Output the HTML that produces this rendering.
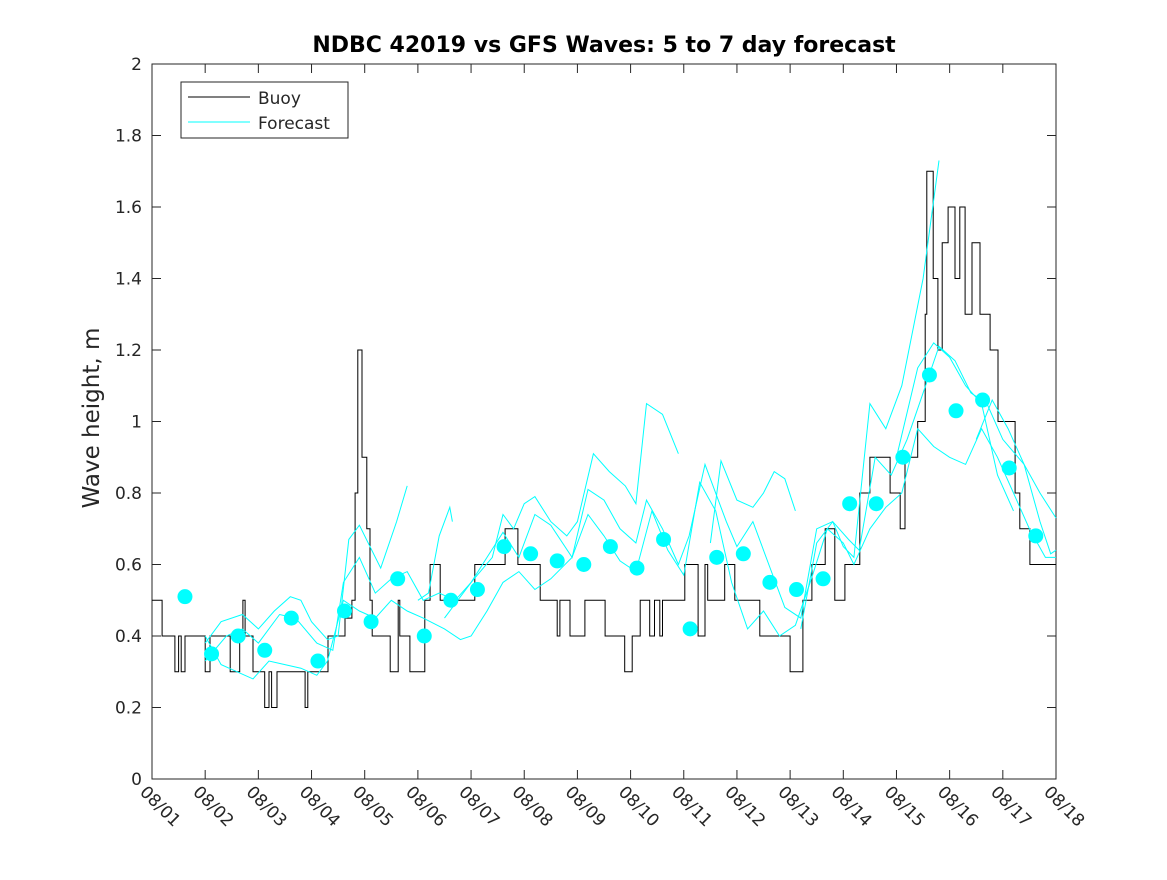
<!DOCTYPE html>
<html><head><meta charset="utf-8"><style>
body{margin:0;background:#fff;}
svg text{font-family:"DejaVu Sans","Liberation Sans",sans-serif;fill:#262626;}
</style></head><body>
<svg id="chart" width="1167" height="875"></svg>
<script>
const yTicks=[0,0.2,0.4,0.6,0.8,1,1.2,1.4,1.6,1.8,2];
const yTickLabels=["0","0.2","0.4","0.6","0.8","1","1.2","1.4","1.6","1.8","2"];
const xTickLabels=["08/01","08/02","08/03","08/04","08/05","08/06","08/07","08/08","08/09","08/10","08/11","08/12","08/13","08/14","08/15","08/16","08/17","08/18"];
const buoyDays=[0,0.19,0.43,0.5,0.55,0.62,1.0,1.09,1.47,1.65,1.71,1.75,1.9,2.12,2.2,2.25,2.35,2.45,2.5,2.88,2.93,2.97,3.31,3.63,3.76,3.82,3.87,3.95,4.04,4.1,4.14,4.48,4.63,4.66,4.7,4.85,5.13,5.23,5.32,5.42,6.07,6.13,6.64,6.88,7.3,7.62,7.67,7.86,8.14,8.52,8.89,9.03,9.18,9.36,9.45,9.55,9.6,9.74,10.02,10.27,10.4,10.45,10.77,10.96,11.43,12.0,12.24,12.41,12.66,12.84,13.03,13.31,13.5,13.88,14.07,14.16,14.4,14.54,14.57,14.69,14.78,14.86,14.97,15.1,15.19,15.29,15.42,15.57,15.76,15.91,16.13,16.23,16.32,16.51,17];
const buoyVals=[0.5,0.4,0.3,0.4,0.3,0.4,0.3,0.4,0.3,0.4,0.5,0.4,0.3,0.2,0.3,0.2,0.3,0.3,0.3,0.2,0.3,0.3,0.4,0.45,0.5,0.8,1.2,0.9,0.7,0.5,0.4,0.3,0.5,0.4,0.4,0.3,0.5,0.6,0.6,0.5,0.6,0.6,0.7,0.6,0.5,0.4,0.5,0.4,0.5,0.4,0.3,0.4,0.5,0.4,0.5,0.4,0.5,0.5,0.6,0.4,0.6,0.5,0.6,0.5,0.4,0.3,0.5,0.6,0.7,0.5,0.6,0.8,0.9,0.8,0.7,0.9,1.0,1.3,1.7,1.4,1.2,1.5,1.6,1.4,1.6,1.3,1.5,1.3,1.2,1.0,1.0,0.8,0.7,0.6,0.6];
const fcA=[[1.0,0.38],[1.3,0.44],[1.7,0.46],[2.0,0.42],[2.3,0.47],[2.6,0.51],[2.8,0.50],[3.0,0.44],[3.3,0.39],[3.5,0.40],[3.7,0.67],[3.9,0.71],[4.1,0.65],[4.3,0.59],[4.6,0.72],[4.8,0.82]];
const fcB=[[5.0,0.50],[5.2,0.52],[5.4,0.68],[5.6,0.76],[5.65,0.72]];
const fcC=[[5.5,0.45],[6,0.55],[6.4,0.62],[6.6,0.74],[6.8,0.70],[7.0,0.77],[7.2,0.79],[7.5,0.72],[7.8,0.68],[8.0,0.72],[8.3,0.91],[8.6,0.86],[8.9,0.82],[9.1,0.77],[9.3,1.05],[9.6,1.02],[9.9,0.91]];
const fcD=[[10.5,0.66],[10.7,0.89],[11,0.78],[11.3,0.76],[11.5,0.80],[11.7,0.86],[11.9,0.84],[12.1,0.75]];
const fcE=[[12.2,0.42],[12.5,0.66],[12.8,0.72],[13.0,0.65],[13.2,0.62],[13.5,1.05],[13.8,0.98],[14.1,1.10],[14.5,1.40],[14.8,1.73]];
const fcF=[[1.0,0.33],[1.4,0.40],[1.7,0.42],[2.0,0.38],[2.4,0.46],[2.7,0.45],[3.1,0.38],[3.4,0.36],[3.6,0.55],[3.9,0.62],[4.2,0.52],[4.5,0.56],[4.8,0.58],[5.1,0.50],[5.4,0.52],[5.7,0.50],[6.0,0.55],[6.3,0.62],[6.6,0.69],[6.9,0.62],[7.2,0.74],[7.5,0.71],[7.9,0.62],[8.2,0.81],[8.5,0.78],[8.8,0.70],[9.1,0.66],[9.3,0.78],[9.6,0.70],[9.9,0.60],[10.1,0.68],[10.4,0.88],[10.8,0.72],[11.0,0.65],[11.3,0.72],[11.6,0.60],[11.9,0.48],[12.2,0.45],[12.5,0.70],[12.8,0.72],[13.1,0.67],[13.3,0.64],[13.6,0.90],[13.9,0.85],[14.2,0.95],[14.5,1.08],[14.8,1.21],[15.1,1.17],[15.4,1.08],[15.7,1.05],[16.0,0.95],[16.4,0.88],[16.7,0.80],[17,0.73]];
const fcG=[[1.0,0.40],[1.3,0.32],[1.6,0.30],[1.9,0.28],[2.2,0.33],[2.5,0.32],[2.8,0.31],[3.1,0.29],[3.3,0.33],[3.6,0.50],[3.9,0.47],[4.2,0.45],[4.5,0.50],[4.8,0.47],[5.1,0.45],[5.5,0.42],[5.8,0.39],[6.0,0.40],[6.3,0.47],[6.6,0.55],[6.9,0.58],[7.2,0.53],[7.5,0.56],[7.9,0.62],[8.2,0.74],[8.5,0.68],[8.8,0.61],[9.1,0.58],[9.4,0.75],[9.7,0.64],[10.0,0.57],[10.3,0.83],[10.6,0.75],[10.9,0.55],[11.2,0.42],[11.5,0.47],[11.8,0.40],[12.1,0.43],[12.4,0.56],[12.7,0.70],[13.0,0.66],[13.2,0.60],[13.5,0.70],[13.8,0.76],[14.1,0.80],[14.4,0.98],[14.7,0.93],[15.0,0.90],[15.3,0.88],[15.6,0.98],[15.9,0.90],[16.2,0.80],[16.5,0.70],[16.8,0.62],[17,0.62]];
const fcH=[[14.0,0.90],[14.4,1.15],[14.7,1.22],[15.0,1.18],[15.3,1.10],[15.6,1.05],[15.9,0.85],[16.2,0.75]];
const fcI=[[15.5,0.95],[15.8,1.06],[16.1,0.98],[16.4,0.88],[16.7,0.72],[16.9,0.63],[17,0.64]];
const dotStart=0.62, dotStep=0.5;
const dotVals=[0.51,0.35,0.40,0.36,0.45,0.33,0.47,0.44,0.56,0.40,0.50,0.53,0.65,0.63,0.61,0.60,0.65,0.59,0.67,0.42,0.62,0.63,0.55,0.53,0.56,0.77,0.77,0.90,1.13,1.03,1.06,0.87,0.68];

const L=152,R=1056,T=64,B=779;
const xs=d=>L+d*(R-L)/17, ys=v=>B-v*(B-T)/2;
const svg=document.getElementById('chart'), NS='http://www.w3.org/2000/svg';
function mk(t,a,p){const e=document.createElementNS(NS,t);for(const k in a)e.setAttribute(k,a[k]);(p||svg).appendChild(e);return e;}
const frame=mk('rect',{x:L,y:T,width:R-L,height:B-T,fill:'#fff',stroke:'#262626','stroke-width':1});


yTicks.forEach((v,i)=>{const y=ys(v);
 mk('line',{x1:L,y1:y,x2:L+9,y2:y,stroke:'#262626'});mk('line',{x1:R,y1:y,x2:R-9,y2:y,stroke:'#262626'});
 const t=mk('text',{x:L-10,y:y+6,'text-anchor':'end','font-size':17});t.textContent=yTickLabels[i];
 
 });
xTickLabels.forEach((s,i)=>{const x=xs(i);
 mk('line',{x1:x,y1:B,x2:x,y2:B-9,stroke:'#262626'});mk('line',{x1:x,y1:T,x2:x,y2:T+9,stroke:'#262626'});
 const t=mk('text',{x:0,y:0,'font-size':17,transform:`translate(${x-13},${B+14}) rotate(45)`});t.textContent=s;
 
 });
let bp='';buoyDays.forEach((d,i)=>{const x=xs(d),y=ys(buoyVals[i]);bp+=(i?`H${x.toFixed(1)}V${y.toFixed(1)}`:`M${x.toFixed(1)},${y.toFixed(1)}`);});
const bl=mk('path',{d:bp,fill:'none',stroke:'#000','stroke-width':1});


[fcA,fcB,fcC,fcD,fcE,fcF,fcG,fcH,fcI].forEach(arr=>{
 const p=mk('polyline',{points:arr.map(q=>xs(q[0]).toFixed(1)+','+ys(q[1]).toFixed(1)).join(' '),fill:'none',stroke:'#00ffff','stroke-width':1});
 
 });
dotVals.forEach((v,i)=>{const c=mk('circle',{cx:xs(dotStart+i*dotStep),cy:ys(v),r:7.5,fill:'#00ffff'});
 
 });
</script>
<svg width="1167" height="875" style="position:absolute;left:0;top:0">
<text x="604" y="52" text-anchor="middle" font-size="22" font-weight="bold" style="fill:#000">NDBC 42019 vs GFS Waves: 5 to 7 day forecast</text>
<text transform="translate(99,418) rotate(-90)" text-anchor="middle" font-size="23">Wave height, m</text>
<g>
<rect x="181" y="82" width="167" height="56" fill="#fff" stroke="#262626"/>
<line x1="188" y1="97" x2="250" y2="97" stroke="#000"/>
<text x="258" y="104" font-size="17">Buoy</text>
<line x1="188" y1="122" x2="250" y2="122" stroke="#00ffff"/>
<text x="258" y="129" font-size="17">Forecast</text>
</g></svg>
</body></html>
